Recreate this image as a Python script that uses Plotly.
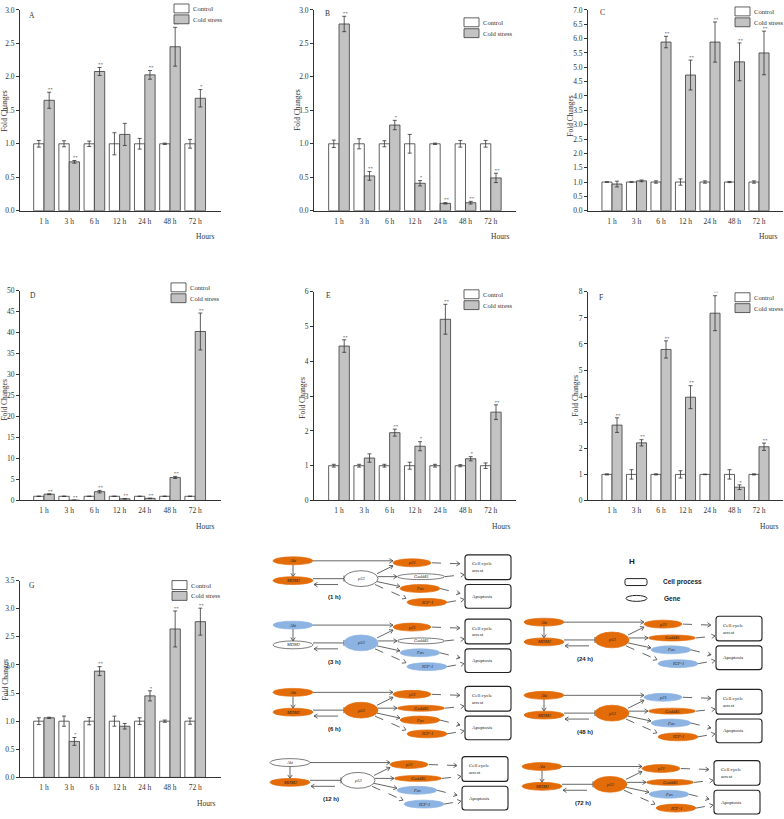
import plotly.graph_objects as go

W, H = 784, 819

hours = ['1 h', '3 h', '6 h', '12 h', '24 h', '48 h', '72 h']
control = [1.0, 1.0, 1.0, 1.0, 1.0, 1.0, 1.0]

a_ctrl_err = [0.05, 0.045, 0.04, 0.165, 0.08, 0.01, 0.065]
a_cold = [1.65, 0.73, 2.08, 1.14, 2.03, 2.45, 1.68]
a_cold_err = [0.12, 0.02, 0.06, 0.165, 0.065, 0.29, 0.13]
a_sig = ['**', '**', '**', '', '**', '**', '*']

b_ctrl_err = [0.055, 0.075, 0.045, 0.14, 0.01, 0.05, 0.05]
b_cold = [2.79, 0.52, 1.28, 0.41, 0.11, 0.12, 0.49]
b_cold_err = [0.115, 0.065, 0.07, 0.04, 0.01, 0.02, 0.07]
b_sig = ['**', '**', '*', '*', '**', '**', '**']

c_ctrl_err = [0.01, 0.01, 0.04, 0.11, 0.04, 0.02, 0.04]
c_cold = [0.93, 1.04, 5.88, 4.73, 5.88, 5.19, 5.5]
c_cold_err = [0.1, 0.03, 0.2, 0.52, 0.7, 0.66, 0.76]
c_sig = ['', '', '**', '**', '**', '**', '**']

d_ctrl_err = [0.05, 0.05, 0.05, 0.05, 0.02, 0.05, 0.05]
d_cold = [1.5, 0.08, 2.1, 0.4, 0.5, 5.5, 40.3]
d_cold_err = [0.1, 0.02, 0.3, 0.05, 0.05, 0.25, 4.4]
d_sig = ['**', '**', '**', '**', '**', '**', '**']

e_ctrl_err = [0.04, 0.04, 0.04, 0.1, 0.04, 0.03, 0.08]
e_cold = [4.44, 1.22, 1.95, 1.56, 5.21, 1.2, 2.54]
e_cold_err = [0.18, 0.12, 0.1, 0.13, 0.43, 0.06, 0.21]
e_sig = ['**', '', '**', '*', '**', '*', '**']

f_ctrl_err = [0.02, 0.18, 0.02, 0.14, 0.01, 0.18, 0.02]
f_cold = [2.89, 2.21, 5.79, 3.96, 7.18, 0.51, 2.06]
f_cold_err = [0.28, 0.12, 0.33, 0.44, 0.67, 0.09, 0.14]
f_sig = ['**', '**', '**', '**', '**', '*', '**']

g_ctrl_err = [0.06, 0.09, 0.065, 0.09, 0.06, 0.02, 0.055]
g_cold = [1.06, 0.64, 1.89, 0.91, 1.45, 2.64, 2.77]
g_cold_err = [0.01, 0.07, 0.08, 0.05, 0.09, 0.32, 0.24]
g_sig = ['', '*', '**', '', '*', '**', '**']

# panel H: gene state at each time point
time_labels = ['(1 h)', '(3 h)', '(6 h)', '(12 h)', '(24 h)', '(48 h)', '(72 h)']
genes = ['Akt', 'MDM2', 'p53', 'p21', 'Gadd45', 'Fas', 'IGF-1']
akt = ['up', 'down', 'up', 'none', 'up', 'up', 'up']
mdm2 = ['up', 'none', 'up', 'up', 'up', 'up', 'up']
p53 = ['none', 'down', 'up', 'none', 'up', 'up', 'up']
p21 = ['up', 'up', 'up', 'up', 'up', 'down', 'up']
gadd45 = ['none', 'none', 'up', 'up', 'up', 'up', 'up']
fas = ['up', 'down', 'up', 'down', 'down', 'down', 'down']
igf1 = ['up', 'down', 'up', 'down', 'down', 'up', 'up']
states = [akt, mdm2, p53, p21, gadd45, fas, igf1]

SERIF = 'Liberation Serif'
SANS = 'Liberation Sans'
INK = '#333333'
ORANGE = '#E36C09'
BLUE = '#8DB3E2'
fill = {'up': ORANGE, 'down': BLUE, 'none': 'white'}


def X(px):
    return px / W


def Y(py):
    return 1 - py / H


panels = [
    dict(letter='A', cold=a_cold, cold_err=a_cold_err, ctrl_err=a_ctrl_err, sig=a_sig,
         ymax=3.0, dtick=0.5, fmt='.1f', box=(20, 221, 6, 209), c0=44, sp=25.2,
         leg=(174, 0), lab=(32, 12), yt=(5, 108), ht=(205, 235)),
    dict(letter='B', cold=b_cold, cold_err=b_cold_err, ctrl_err=b_ctrl_err, sig=b_sig,
         ymax=3.0, dtick=0.5, fmt='.1f', box=(314, 516, 6, 209), c0=339, sp=25.3,
         leg=(464, 14), lab=(327, 10), yt=(298, 107), ht=(500, 235)),
    dict(letter='C', cold=c_cold, cold_err=c_cold_err, ctrl_err=c_ctrl_err, sig=c_sig,
         ymax=7.0, dtick=0.5, fmt='.1f', box=(588, 783, 6, 209), c0=612, sp=24.5,
         leg=(735, 3), lab=(602, 9), yt=(571, 113), ht=(768, 235)),
    dict(letter='D', cold=d_cold, cold_err=d_cold_err, ctrl_err=d_ctrl_err, sig=d_sig,
         ymax=50, dtick=5, fmt='d', box=(20, 221, 290, 502), c0=44, sp=25.2,
         leg=(171, 282), lab=(33, 295), yt=(5, 400), ht=(205, 528)),
    dict(letter='E', cold=e_cold, cold_err=e_cold_err, ctrl_err=e_ctrl_err, sig=e_sig,
         ymax=6, dtick=1, fmt='d', box=(314, 516, 291, 502), c0=339, sp=25.3,
         leg=(464, 289), lab=(328, 295), yt=(303, 398), ht=(501, 528)),
    dict(letter='F', cold=f_cold, cold_err=f_cold_err, ctrl_err=f_ctrl_err, sig=f_sig,
         ymax=8, dtick=1, fmt='d', box=(588, 783, 291, 502), c0=612, sp=24.5,
         leg=(735, 292), lab=(601, 297), yt=(576, 396), ht=(769, 528)),
    dict(letter='G', cold=g_cold, cold_err=g_cold_err, ctrl_err=g_ctrl_err, sig=g_sig,
         ymax=3.5, dtick=0.5, fmt='.1f', box=(20, 221, 583, 782), c0=44, sp=25.2,
         leg=(172, 583), lab=(32, 588), yt=(5, 683), ht=(206, 808)),
]

fig = go.Figure()
shapes = []
annotations = []
BW = 0.41
idx = list(range(len(hours)))


def label(t, x, y, size, family=SERIF, anchor='center', angle=0, color=INK):
    annotations.append(dict(text=t, x=X(x), y=Y(y), xref='paper', yref='paper',
                            xanchor=anchor, yanchor='middle', showarrow=False,
                            textangle=angle, font=dict(family=family, size=size, color=color)))


for k, p in enumerate(panels):
    s = '' if k == 0 else str(k + 1)
    x0, x1, yt_, yb_ = p['box']
    fig.add_trace(go.Bar(
        x=[i - BW / 2 for i in idx], y=control, width=BW,
        marker=dict(color='white', line=dict(color='#3a3a3a', width=0.8)),
        error_y=dict(type='data', array=p['ctrl_err'], color=INK, thickness=0.8, width=2),
        xaxis='x' + s, yaxis='y' + s, showlegend=False, hoverinfo='skip'))
    fig.add_trace(go.Bar(
        x=[i + BW / 2 for i in idx], y=p['cold'], width=BW,
        marker=dict(color='#c3c3c3', line=dict(color='#3a3a3a', width=0.8)),
        error_y=dict(type='data', array=p['cold_err'], color=INK, thickness=0.8, width=2),
        xaxis='x' + s, yaxis='y' + s, showlegend=False, hoverinfo='skip'))
    fig.add_trace(go.Scatter(
        x=[i + BW / 2 + 0.04 for i in idx],
        y=[v + e for v, e in zip(p['cold'], p['cold_err'])],
        text=p['sig'], mode='text', textposition='top center',
        textfont=dict(family=SERIF, size=5, color=INK),
        xaxis='x' + s, yaxis='y' + s, showlegend=False, hoverinfo='skip'))

    fig.layout['xaxis' + s] = dict(
        domain=[X(x0), X(x1)], anchor='y' + s,
        range=[(x0 - p['c0']) / p['sp'], (x1 - p['c0']) / p['sp']],
        tickmode='array', tickvals=idx, ticktext=hours, ticks='',
        showline=True, linecolor=INK, linewidth=1, showgrid=False, zeroline=False,
        tickfont=dict(family=SERIF, size=7.5, color=INK), ticklabelstandoff=3)
    fig.layout['yaxis' + s] = dict(
        domain=[Y(yb_), Y(yt_)], anchor='x' + s, range=[0, p['ymax']],
        tick0=0, dtick=p['dtick'], tickformat=p['fmt'], ticks='outside',
        ticklen=3, tickwidth=0.8, tickcolor=INK,
        showline=True, linecolor=INK, linewidth=1, showgrid=False, zeroline=False,
        tickfont=dict(family=SERIF, size=7.5, color=INK))

    # legend boxes
    lx, ly = p['leg']
    for j, (name, col) in enumerate([('Control', 'white'), ('Cold stress', '#c3c3c3')]):
        top = ly + j * 11
        shapes.append(dict(type='rect', xref='paper', yref='paper',
                           x0=X(lx), x1=X(lx + 15), y0=Y(top + 9), y1=Y(top),
                           fillcolor=col, line=dict(color='#3a3a3a', width=0.8)))
        label(name, lx + 17, top + 4.5, 6.6, anchor='left')
    label(p['letter'], *p['lab'], 7.5)
    label('Fold Changes', *p['yt'], 7.5, angle=-90)
    label('Hours', *p['ht'], 7.5)


# ---- panel H: pathway sketches ----
def pt(x, y):
    return f'{X(x):.5f},{Y(y):.5f}'


def line(x1, y1, x2, y2, dash='solid', color='#555555', width=0.9):
    shapes.append(dict(type='line', xref='paper', yref='paper', x0=X(x1), y0=Y(y1),
                       x1=X(x2), y1=Y(y2), line=dict(color=color, width=width, dash=dash)))


def arrow(x1, y1, x2, y2, style):
    dx, dy = x2 - x1, y2 - y1
    L = (dx * dx + dy * dy) ** 0.5
    ux, uy = dx / L, dy / L
    nx, ny = -uy, ux
    if style == 'bar':
        line(x1, y1, x2, y2, color='#7f7f7f', width=1.2)
        line(x2 + 3 * nx, y2 + 3 * ny, x2 - 3 * nx, y2 - 3 * ny, color='#555555', width=1)
        return
    line(x1, y1, x2, y2, dash='dash' if style == 'dash' else 'solid',
         color='#555555', width=0.9)
    a = (x2 - 3.5 * ux + 2.2 * nx, y2 - 3.5 * uy + 2.2 * ny)
    b = (x2 - 3.5 * ux - 2.2 * nx, y2 - 3.5 * uy - 2.2 * ny)
    shapes.append(dict(type='path', xref='paper', yref='paper',
                       path=f'M {pt(*a)} L {pt(x2, y2)} L {pt(*b)}',
                       line=dict(color='#555555', width=0.9)))


def rbox(x0, y0, x1, y1, r=3, width=1.1):
    path = (f'M {pt(x0 + r, y0)} L {pt(x1 - r, y0)} Q {pt(x1, y0)} {pt(x1, y0 + r)} '
            f'L {pt(x1, y1 - r)} Q {pt(x1, y1)} {pt(x1 - r, y1)} L {pt(x0 + r, y1)} '
            f'Q {pt(x0, y1)} {pt(x0, y1 - r)} L {pt(x0, y0 + r)} Q {pt(x0, y0)} {pt(x0 + r, y0)} Z')
    shapes.append(dict(type='path', xref='paper', yref='paper', path=path,
                       fillcolor='white', line=dict(color='#222222', width=width)))


def text(t, x, y, size=5, family=SERIF, anchor='center', bold=False, italic=False):
    if italic:
        t = '<i>' + t + '</i>'
    if bold:
        t = '<b>' + t + '</b>'
    label(t, x, y, size, family=family, anchor=anchor, color='#222222')


# node geometry relative to the Akt node: dx, dy, width, height
node_geo = [(0, 0, 40, 8), (0, 20, 40, 8), (68, 18, 34, 16), (119, 2, 38, 8),
            (128, 16, 47, 6), (127, 28, 40, 8), (134, 42, 40, 8)]
edges = [(20, 0, 100, 0, 'solid'), (0, 4, 0, 16, 'solid'), (20, 18, 51, 18, 'bar'),
         (45, 24, 21, 24, 'solid'), (84, 13, 100, 5, 'solid'), (85, 16, 104, 16, 'solid'),
         (84, 21, 107, 26, 'solid'), (82, 24, 113, 38, 'dash'), (139, 2, 167, 3, 'dash'),
         (152, 16, 171, 14, 'dash'), (147, 28, 167, 33, 'dash'), (154, 42, 171, 39, 'dash')]
anchors = [(293, 563), (293, 628), (293, 696), (290, 767), (544, 625), (544, 699), (542, 771)]

for t, (ax, ay) in enumerate(anchors):
    for x1, y1, x2, y2, st in edges:
        arrow(ax + x1, ay + y1, ax + x2, ay + y2, st)
    for g, (dx, dy, w, h) in enumerate(node_geo):
        st = states[g][t]
        shapes.append(dict(type='circle', xref='paper', yref='paper',
                           x0=X(ax + dx - w / 2), x1=X(ax + dx + w / 2),
                           y0=Y(ay + dy + h / 2), y1=Y(ay + dy - h / 2),
                           fillcolor=fill[st],
                           line=dict(color='#444444' if st == 'none' else fill[st], width=0.7)))
        text(genes[g], ax + dx, ay + dy, size=4.5, italic=True)
    rbox(ax + 172, ay - 6, ax + 218, ay + 19)
    rbox(ax + 172, ay + 24, ax + 218, ay + 48)
    text('Cell cycle', ax + 177, ay + 3, anchor='left')
    text('arrest', ax + 177, ay + 10, anchor='left')
    text('Apoptosis', ax + 177, ay + 36, anchor='left')
    text(time_labels[t], ax + 41, ay + 37, size=6, family=SANS, bold=True)

# legend of panel H
text('H', 632, 564, size=8, family=SANS, bold=True)
rbox(625, 581, 647, 588, r=2, width=1)
shapes.append(dict(type='circle', xref='paper', yref='paper', x0=X(626), x1=X(647),
                   y0=Y(604), y1=Y(598), line=dict(color='#222222', width=1)))
text('Cell process', 661, 584, size=6.5, family=SANS, bold=True, anchor='left')
text('Gene', 662, 601, size=6.5, family=SANS, bold=True, anchor='left')

fig.update_layout(
    width=W, height=H, margin=dict(l=0, r=0, t=0, b=0),
    paper_bgcolor='white', plot_bgcolor='rgba(0,0,0,0)',
    barmode='overlay', showlegend=False,
    shapes=shapes, annotations=annotations)

# drop the browser's default page margin so the figure fills the window
fig.write_html("out.html", config={'displayModeBar': False},
               post_script="document.body.style.margin='0';")
